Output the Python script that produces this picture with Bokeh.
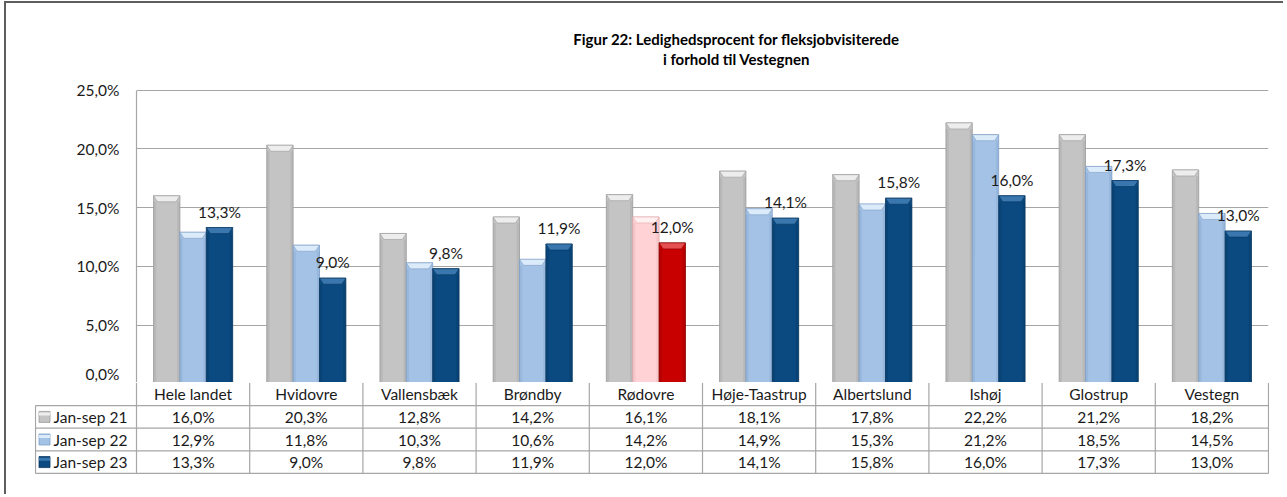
from bokeh.plotting import figure
from bokeh.models import Range1d, CustomJSTickFormatter, FixedTicker, ColumnDataSource
from bokeh.core.properties import value
from bokeh.embed import file_html
from bokeh.resources import INLINE

# ---------------- data ----------------
categories = ["Hele landet", "Hvidovre", "Vallensbæk", "Brøndby", "Rødovre",
              "Høje-Taastrup", "Albertslund", "Ishøj", "Glostrup", "Vestegn"]
series_names = ["Jan-sep 21", "Jan-sep 22", "Jan-sep 23"]
jan_sep_21 = [16.0, 20.3, 12.8, 14.2, 16.1, 18.1, 17.8, 22.2, 21.2, 18.2]
jan_sep_22 = [12.9, 11.8, 10.3, 10.6, 14.2, 14.9, 15.3, 21.2, 18.5, 14.5]
jan_sep_23 = [13.3, 9.0, 9.8, 11.9, 12.0, 14.1, 15.8, 16.0, 17.3, 13.0]
y_ticks = [0, 5, 10, 15, 20, 25]
title_lines = ["Figur 22: Ledighedsprocent for fleksjobvisiterede",
               "i forhold til Vestegnen"]
highlight = "Rødovre"
series = [jan_sep_21, jan_sep_22, jan_sep_23]

# ---------------- style ----------------
FONT = "Lato"
FS = "15.5px"
TXT = "#1a1a1a"
GRID = "#a6a6a6"
main_cols = ["#c4c4c4", "#a4c2e5", "#0b4a80"]
cap_cols = ["#ededed", "#dcebfa", "#3a77ae"]
edge_cols = ["#9a9a9a", "#7f9fc6", "#08365e"]
hl_main = ["#c4c4c4", "#ffd3d6", "#c80000"]
hl_cap = ["#ededed", "#fff0f1", "#e65050"]
hl_edge = ["#9a9a9a", "#e0a8ac", "#8a0000"]
FRAME_STYLE = {"border-left": "2px solid #5e5e5e", "margin-left": "4px"}

PX_X = 113.2          # px per category
PX_Y = 294 / 25.0     # px per percent
BW = 0.233            # bar width (category units)
CAP_H = 6 / PX_Y
INSET = 4 / PX_X
OFFX = 6              # margin + border on the left


def fmt(v):
    return f"{v:.1f}%".replace(".", ",")


# ---------------- chart figure ----------------
TOPOFF = 3
HA = 384 - TOPOFF
y0 = -0.5 / PX_Y
pA = figure(width=1285 - OFFX, height=HA, output_backend="svg", toolbar_location=None,
            x_range=Range1d(0, 10), y_range=Range1d(y0, y0 + HA / PX_Y),
            x_axis_location=None, min_border_left=136 - OFFX, min_border_right=17,
            min_border_top=0, min_border_bottom=0, tools="")
pA.styles = dict(FRAME_STYLE, **{"border-top": "2px solid #5e5e5e", "margin-top": "1px"})
pA.outline_line_color = None
pA.xgrid.visible = False
pA.ygrid.ticker = FixedTicker(ticks=y_ticks)
pA.ygrid.grid_line_color = GRID
pA.ygrid.grid_line_width = 1.2
ya = pA.yaxis[0]
ya.ticker = FixedTicker(ticks=y_ticks)
ya.bounds = (0, 25)
ya.formatter = CustomJSTickFormatter(code="return tick.toFixed(1).replace('.', ',') + '%';")
ya.major_tick_in = 0
ya.major_tick_out = 0
ya.minor_tick_in = 0
ya.minor_tick_out = 0
ya.axis_line_color = GRID
ya.axis_line_width = 1.2
ya.major_label_standoff = 17
ya.major_label_text_font = FONT
ya.major_label_text_font_size = FS
ya.major_label_text_color = TXT

for s, vals in enumerate(series):
    off = (s - 1) * BW
    xs = [i + 0.5 + off for i in range(len(categories))]
    is_hl = [c == highlight for c in categories]
    mc = [hl_main[s] if h else main_cols[s] for h in is_hl]
    cc = [hl_cap[s] if h else cap_cols[s] for h in is_hl]
    ec = [hl_edge[s] if h else edge_cols[s] for h in is_hl]
    src = ColumnDataSource(dict(x=xs, top=vals, mc=mc, cc=cc, ec=ec,
                                lx=[x - BW / 2 + 0.012 for x in xs],
                                rx=[x + BW / 2 - 0.012 for x in xs],
                                stop=[v - CAP_H for v in vals]))
    pA.vbar(x="x", top="top", bottom=0, width=BW, source=src,
            fill_color="mc", line_color="ec", line_width=0.8)
    pA.vbar(x="lx", top="stop", bottom=0, width=0.024, source=src,
            fill_color="ec", fill_alpha=0.3, line_color=None)
    pA.vbar(x="rx", top="stop", bottom=0, width=0.024, source=src,
            fill_color="ec", fill_alpha=0.3, line_color=None)
    pxs = [[x - BW / 2, x + BW / 2, x + BW / 2 - INSET, x - BW / 2 + INSET] for x in xs]
    pys = [[v, v, v - CAP_H, v - CAP_H] for v in vals]
    pA.patches(xs=pxs, ys=pys, fill_color=cc, line_color=ec, line_width=0.6)
    if s == 2:
        pA.text(x=xs, y=vals, text=[fmt(v) for v in vals], y_offset=-16,
                text_align="center", text_baseline="middle",
                text_font=value(FONT), text_font_size=FS, text_color=TXT)

# title
title_x = (736 - 136) / PX_X
t_y = [(HA - (38 - TOPOFF)) / PX_Y + y0, (HA - (58 - TOPOFF)) / PX_Y + y0]
pA.text(x=[title_x, title_x], y=t_y, text=title_lines,
        text_align="center", text_baseline="middle", text_font=value(FONT),
        text_font_size="15px", text_font_style="bold", text_color="#000000")

# ---------------- data table figure ----------------
ROW = 22.6
HB_FRAME = 93
LW = 101 / PX_X
x_start = -(102 / PX_X)
x_end = (1269 - 136) / PX_X
y_end = 4 + 0.5 / ROW
pB = figure(width=1285 - OFFX, height=112, output_backend="svg",
            toolbar_location=None,
            x_range=Range1d(x_start, x_end), y_range=Range1d(y_end - HB_FRAME / ROW, y_end),
            x_axis_location=None, y_axis_location=None,
            min_border_left=34 - OFFX, min_border_right=16,
            min_border_top=0, min_border_bottom=112 - HB_FRAME, tools="")
pB.styles = FRAME_STYLE
pB.outline_line_color = None
pB.xgrid.visible = False
pB.ygrid.visible = False

n = len(categories)
h_y = [0, 1, 2, 3]
pB.segment(x0=[-LW] * 4, y0=h_y, x1=[n] * 4, y1=h_y, line_color=GRID, line_width=1.2)
v_x = [-LW] + list(range(n + 1))
pB.segment(x0=v_x, y0=[0] * (n + 2), x1=v_x, y1=[3] + [4] * (n + 1),
           line_color=GRID, line_width=1.2)

pB.text(x=[i + 0.5 for i in range(n)], y=[3.5] * n, text=categories,
        text_align="center", text_baseline="middle", text_font=value(FONT),
        text_font_size=FS, text_color=TXT)
for s, vals in enumerate(series):
    yc = 2.5 - s
    pB.text(x=[i + 0.5 for i in range(n)], y=[yc] * n, text=[fmt(v) for v in vals],
            text_align="center", text_baseline="middle", text_font=value(FONT),
            text_font_size=FS, text_color=TXT)
    kx = -LW + 9 / PX_X
    pB.rect(x=[kx], y=[yc], width=11, height=11, width_units="screen",
            height_units="screen", fill_color=main_cols[s], line_color=edge_cols[s],
            line_width=0.8)
    pB.rect(x=[kx], y=[yc + 0.13], width=11, height=3, width_units="screen",
            height_units="screen", fill_color=cap_cols[s], line_color=None)
    pB.text(x=[-LW + 18 / PX_X], y=[yc], text=[series_names[s]],
            text_align="left", text_baseline="middle", text_font=value(FONT),
            text_font_size=FS, text_color=TXT)

open("out.html", "w").write(file_html([pA, pB], INLINE))
